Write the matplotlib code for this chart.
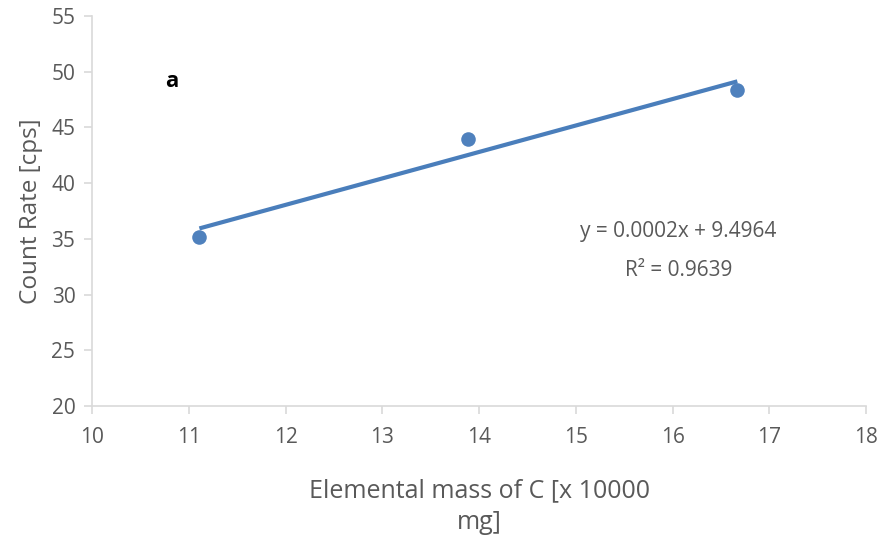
import numpy as np
import matplotlib.pyplot as plt

plt.rcParams['font.family'] = ['Open Sans', 'DejaVu Sans']

# elemental mass of C [x 10000 mg] vs count rate [cps]
mass = [11.11, 13.89, 16.67]
count_rate = [35.2, 44.0, 48.4]
x_ticks = [10, 11, 12, 13, 14, 15, 16, 17, 18]
y_ticks = [20, 25, 30, 35, 40, 45, 50, 55]
equation = 'y = 0.0002x + 9.4964'
r_squared = 'R² = 0.9639'

TEXT = '#595959'
GRID = '#d9d9d9'
BLUE = '#4f81bd'

fig = plt.figure(figsize=(8.82, 5.38), dpi=100)
ax = fig.add_axes([0.1043, 0.2454, 0.8776, 0.7249])

slope, intercept = np.polyfit(mass, count_rate, 1)
xs = np.array([min(mass), max(mass)])
ax.plot(xs, slope * xs + intercept, color='#4a7ebb', lw=3, solid_capstyle='butt', zorder=2)
ax.scatter(mass, count_rate, s=110, color=BLUE, zorder=3, linewidths=0)

ax.set_xlim(10, 18)
ax.set_ylim(20, 55)
ax.set_xticks(x_ticks)
ax.set_yticks(y_ticks)

for side in ['top', 'right']:
    ax.spines[side].set_visible(False)
for side in ['left', 'bottom']:
    ax.spines[side].set_color(GRID)
    ax.spines[side].set_linewidth(1.2)
ax.tick_params(colors=GRID, labelcolor=TEXT, labelsize=15, length=6, width=1.2)
ax.tick_params(axis='x', pad=9)
ax.tick_params(axis='y', pad=6)

ax.set_ylabel('Count Rate [cps]', color=TEXT, fontsize=17.5, labelpad=6)
ax.set_xlabel('Elemental mass of C [x 10000\nmg]', color=TEXT, fontsize=18, labelpad=22,
              linespacing=1.35)

ax.text(10.82, 49.1, 'a', fontsize=16, fontweight='bold', color='black', va='center', ha='center')
ax.text(16.06, 35.7, equation, fontsize=15, color=TEXT, ha='center', va='center')
ax.text(16.06, 32.2, r_squared, fontsize=15, color=TEXT, ha='center', va='center')

fig.savefig('out.png', dpi=100)
